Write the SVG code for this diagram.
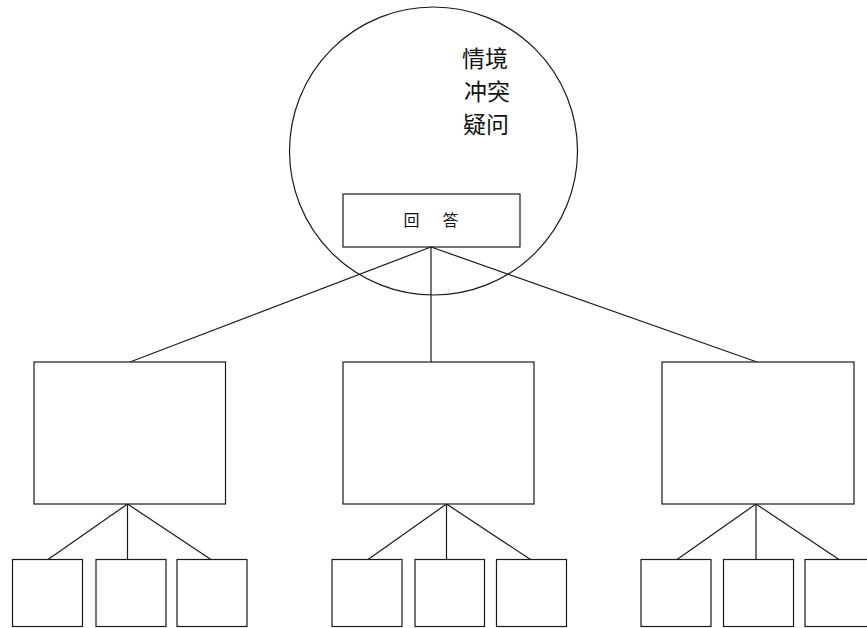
<svg xmlns="http://www.w3.org/2000/svg" width="867" height="628" viewBox="0 0 867 628">
<style>
.s{fill:#fff;stroke:#1a1a1a;stroke-width:1.2}
.c line{stroke:#1a1a1a;stroke-width:1.2}
.t{font-family:"Noto Sans CJK SC","Noto Sans",sans-serif;fill:#111}
</style>
<rect width="867" height="628" fill="#fff"/>
<g id="circle"><circle class="s" cx="433.5" cy="151" r="144" fill="none"/>
<text class="t" x="462" y="67" font-size="23">情境</text>
<text class="t" x="464" y="100" font-size="23">冲突</text>
<text class="t" x="463" y="133" font-size="23">疑问</text>
</g>
<g id="answer"><rect class="s" x="343" y="194" width="177" height="53"/>
<text class="t" x="411.5" y="226" font-size="16" text-anchor="middle">回</text>
<text class="t" x="450.5" y="226" font-size="16" text-anchor="middle">答</text>
</g>
<g class="c" id="connectors">
<line x1="431" y1="247" x2="130" y2="362"/>
<line x1="431" y1="247" x2="431" y2="362"/>
<line x1="431" y1="247" x2="757" y2="362"/>
<line x1="127.5" y1="504" x2="48" y2="559.5"/>
<line x1="127.5" y1="504" x2="127.5" y2="559.5"/>
<line x1="127.5" y1="504" x2="211" y2="559.5"/>
<line x1="446.5" y1="504" x2="368" y2="559.5"/>
<line x1="446.5" y1="504" x2="446.5" y2="559.5"/>
<line x1="446.5" y1="504" x2="530.5" y2="559.5"/>
<line x1="756" y1="504" x2="677" y2="559.5"/>
<line x1="756" y1="504" x2="756" y2="559.5"/>
<line x1="756" y1="504" x2="839" y2="559.5"/>
</g>
<g id="b1"><rect class="s" x="34" y="362" width="191.5" height="142"/></g>
<g id="b2"><rect class="s" x="343" y="362" width="191" height="142"/></g>
<g id="b3"><rect class="s" x="662" y="362" width="192" height="142"/></g>
<g id="b11"><rect class="s" x="12.5" y="559.5" width="70" height="67"/></g>
<g id="b12"><rect class="s" x="96" y="559.5" width="70" height="67"/></g>
<g id="b13"><rect class="s" x="177" y="559.5" width="70" height="67"/></g>
<g id="b21"><rect class="s" x="332" y="559.5" width="70" height="67"/></g>
<g id="b22"><rect class="s" x="415" y="559.5" width="69.5" height="67"/></g>
<g id="b23"><rect class="s" x="496.5" y="559.5" width="70" height="67"/></g>
<g id="b31"><rect class="s" x="641" y="559.5" width="70" height="67"/></g>
<g id="b32"><rect class="s" x="723.5" y="559.5" width="70" height="67"/></g>
<g id="b33"><rect class="s" x="805" y="559.5" width="70" height="67"/></g>
</svg>
